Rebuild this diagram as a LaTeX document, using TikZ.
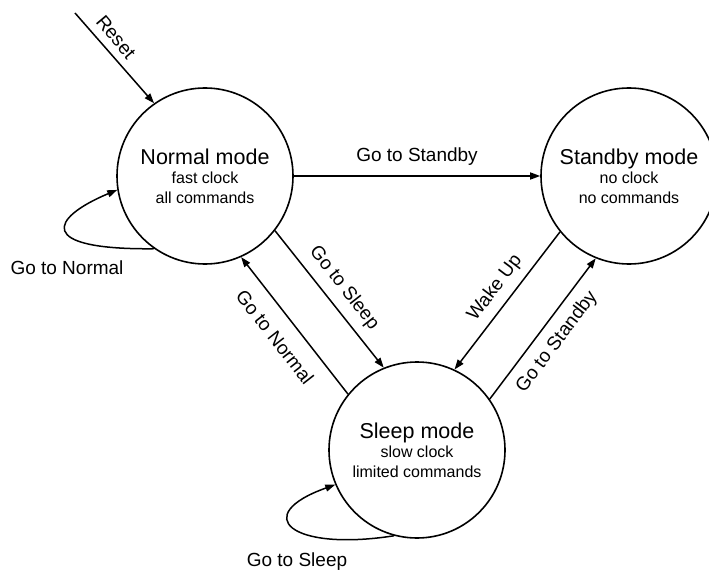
\documentclass[tikz,border=0pt]{standalone}
\usepackage{fontspec}
\setmainfont{Liberation Sans}
\usetikzlibrary{arrows.meta}
\begin{document}
\begin{tikzpicture}[x=1pt,y=-1pt,
  state/.style={circle,draw,line width=1.6pt,minimum size=176pt,inner sep=0pt,align=center,
    font=\fontsize{16}{20}\selectfont},
  ttl/.style={},
  tr/.style={line width=1.5pt,-{Triangle[length=10pt,width=7pt]}},
  lbl/.style={font=\fontsize{19}{22}\selectfont,inner sep=0pt}]
\useasboundingbox (0,0) rectangle (709,572);
\fill[white] (0,0) rectangle (709,572);

\node[state] (N) at (205,176) {{\fontsize{21.5}{24}\selectfont Normal mode}\\[-1pt] fast clock\\ all commands};
\node[state] (T) at (629,176) {{\fontsize{21.5}{24}\selectfont Standby mode}\\[-1pt] no clock\\ no commands};
\node[state] (S) at (417,450) {{\fontsize{21.5}{24}\selectfont Sleep mode}\\[-1pt] slow clock\\ limited commands};

\coordinate (R0) at (75,13);
\draw[tr] (R0) -- (N.125.6);
\node[lbl,rotate=-50] (lR) at (116,37) {Reset};

\draw[tr] (N.0) -- (T.180);
\node[lbl] (lNT) at (417,157) {Go to Standby};

\draw[tr] (N.-38.5) -- (S.112.9);
\node[lbl,rotate=-52] (lNS) at (344,288) {Go to Sleep};

\draw[tr] (S.141.8) -- (N.-66.9);
\node[lbl,rotate=-52] (lSN) at (275,337) {Go to Normal};

\draw[tr] (T.-141.7) -- (S.65.1);
\node[lbl,rotate=53] (lTS) at (495,288) {Wake Up};

\draw[tr] (S.35.5) -- (T.-112.5);
\node[lbl,rotate=53] (lST) at (557,342) {Go to Standby};

\draw[tr] (N.-125.8) .. controls (35,250) and (50,218) .. (N.-171);
\node[lbl] (lNN) at (67,268) {Go to Normal};

\draw[tr] (S.-105.8) .. controls (290,552) and (250,515) .. (S.-157.4);
\node[lbl] (lSS) at (297,562) {Go to Sleep};
\end{tikzpicture}
\end{document}
